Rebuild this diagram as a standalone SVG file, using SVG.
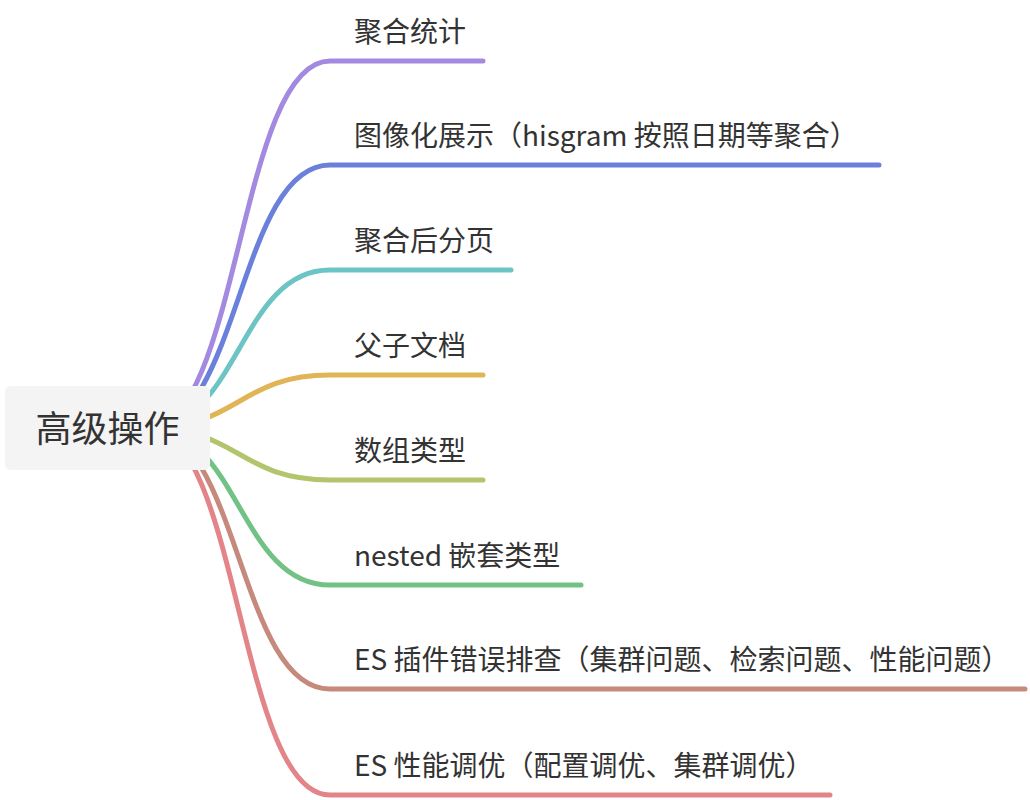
<svg xmlns="http://www.w3.org/2000/svg" width="1030" height="800" viewBox="0 0 1030 800">
  <style>
    .link { fill: none; stroke-width: 5; stroke-linecap: round; stroke-linejoin: round; }
    .label { font-family: "Microsoft YaHei", "Noto Sans CJK SC", "Noto Sans", sans-serif; font-size: 28px; fill: #333333; }
    .root-label { font-family: "Microsoft YaHei", "Noto Sans CJK SC", "Noto Sans", sans-serif; font-size: 36px; fill: #333333; }
    .root-box { fill: #f4f4f4; }
  </style>
  <rect width="1030" height="800" fill="#ffffff"/>
  <g id="connectors">
    <path class="link" stroke="#a389e0" d="M148,428 C239,428 239,61 330,61 H483"/>
    <path class="link" stroke="#6b80db" d="M148,428 C239,428 239,165 330,165 H879"/>
    <path class="link" stroke="#6cc4c4" d="M148,428 C239,428 239,270 330,270 H511"/>
    <path class="link" stroke="#e0b556" d="M148,428 C239,428 239,375 330,375 H483"/>
    <path class="link" stroke="#b3c56c" d="M148,428 C239,428 239,480 330,480 H483"/>
    <path class="link" stroke="#72c286" d="M148,428 C239,428 239,585 330,585 H581"/>
    <path class="link" stroke="#c58a7c" d="M148,428 C239,428 239,689 330,689 H1025"/>
    <path class="link" stroke="#e28488" d="M148,428 C239,428 239,795 330,795 H830"/>
  </g>
  <g id="root">
    <rect class="root-box" x="5" y="386" width="205" height="84" rx="6" ry="6"/>
    <text class="root-label" x="107.5" y="442" text-anchor="middle">高级操作</text>
  </g>
  <g id="n1"><text class="label" x="354" y="42">聚合统计</text></g>
  <g id="n2"><text class="label" x="354" y="146">图像化展示（hisgram 按照日期等聚合）</text></g>
  <g id="n3"><text class="label" x="354" y="251">聚合后分页</text></g>
  <g id="n4"><text class="label" x="354" y="356">父子文档</text></g>
  <g id="n5"><text class="label" x="354" y="461">数组类型</text></g>
  <g id="n6"><text class="label" x="354" y="566">nested 嵌套类型</text></g>
  <g id="n7"><text class="label" x="354" y="670">ES 插件错误排查（集群问题、检索问题、性能问题）</text></g>
  <g id="n8"><text class="label" x="354" y="776">ES 性能调优（配置调优、集群调优）</text></g>
</svg>
